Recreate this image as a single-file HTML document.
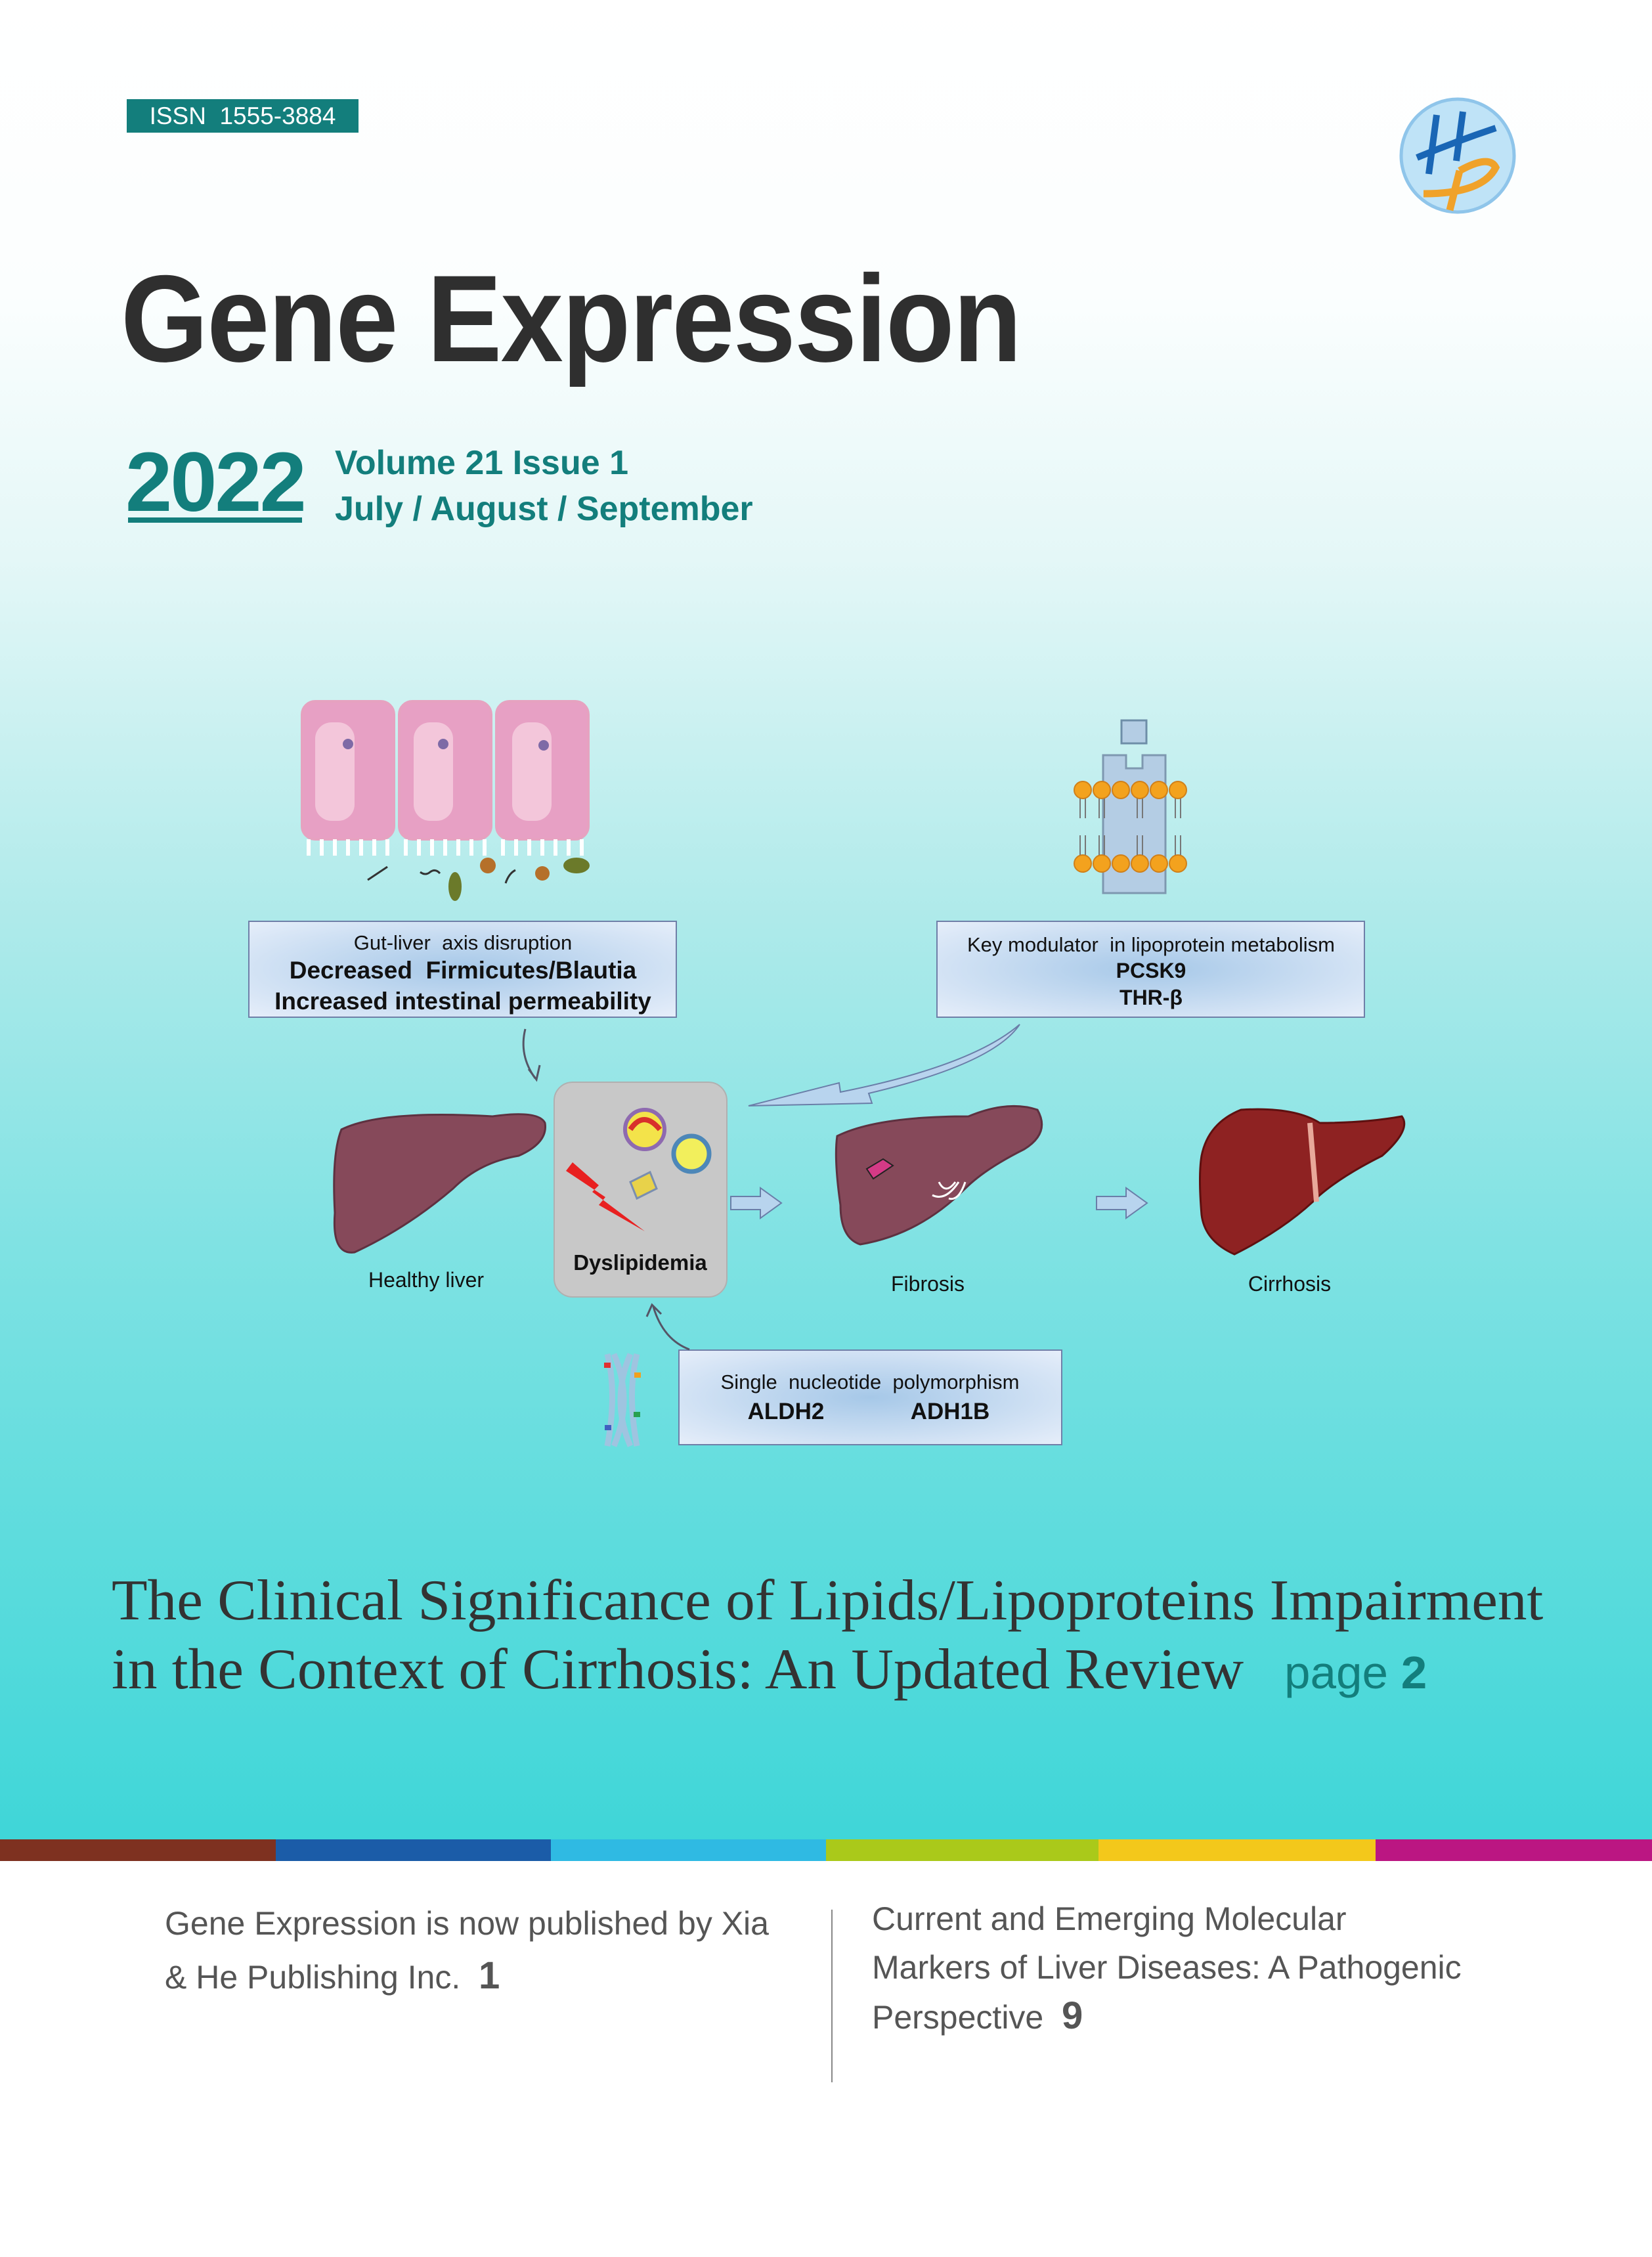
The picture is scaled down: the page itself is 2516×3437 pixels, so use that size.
<!DOCTYPE html>
<html><head><meta charset="utf-8"><style>
html,body{margin:0;padding:0}
body{width:2516px;height:3437px;position:relative;overflow:hidden;background:#fff;font-family:"Liberation Sans",sans-serif}
.bg{position:absolute;left:0;top:0;width:2516px;height:2801px;background:linear-gradient(to bottom,#ffffff 0px,#fbfefe 450px,#e4f7f7 850px,#aeeaea 1400px,#7fe2e3 1900px,#5ddcdd 2350px,#3fd6d8 2801px)}
.bar{position:absolute;top:2801px;height:33px}
.a{position:absolute;white-space:nowrap}
</style></head><body>
<div class="bg"></div>
<div class="a" style="left:193px;top:151px;width:353px;height:51px;background:#137e7c;color:#fff;font-size:37px;line-height:51px;text-align:center">ISSN&nbsp; 1555-3884</div>
<svg class="a" style="left:2128px;top:145px" width="184" height="184" viewBox="0 0 184 184">
<circle cx="92" cy="92" r="86" fill="#bfe3f7" stroke="#8fc5ea" stroke-width="5"/>
<path d="M60 30 L48 120 M100 25 L90 100 M30 95 Q90 70 150 50" stroke="#1a66b5" stroke-width="10" fill="none"/>
<path d="M95 115 Q140 90 150 110 Q130 150 40 150 M95 115 L80 175" stroke="#f0a22a" stroke-width="11" fill="none"/>
</svg>
<div class="a" style="left:184px;top:385px;font-size:188px;font-weight:bold;color:#2f2f2f;line-height:200px;transform:scaleX(0.91);transform-origin:left top;letter-spacing:-2px">Gene Expression</div>
<div class="a" style="left:191px;top:660px;font-size:128px;font-weight:bold;color:#137e7c;line-height:150px;letter-spacing:-3px">2022</div>
<div class="a" style="left:195px;top:788px;width:265px;height:8px;background:#137e7c"></div>
<div class="a" style="left:510px;top:670px;font-size:52px;font-weight:bold;color:#137e7c;line-height:70px">Volume 21 Issue 1</div>
<div class="a" style="left:510px;top:740px;font-size:52px;font-weight:bold;color:#137e7c;line-height:70px">July / August / September</div>

<svg class="a" style="left:0;top:0" width="2516" height="2801" viewBox="0 0 2516 2801">
<defs>
<radialGradient id="bx" cx="50%" cy="50%" r="70%"><stop offset="0" stop-color="#a6c8e8"/><stop offset="1" stop-color="#e6eefa"/></radialGradient>
</defs>
<g stroke="#e6a2c0" stroke-width="4" fill="#e7a0c4">
<rect x="460" y="1068" width="140" height="210" rx="20"/>
<rect x="608" y="1068" width="140" height="210" rx="20"/>
<rect x="756" y="1068" width="140" height="210" rx="20"/>
</g>
<g fill="#f3c6da"><rect x="480" y="1100" width="60" height="150" rx="25"/><rect x="630" y="1100" width="60" height="150" rx="25"/><rect x="780" y="1100" width="60" height="150" rx="25"/></g>
<g fill="#7e6aa6"><circle cx="530" cy="1133" r="8"/><circle cx="675" cy="1133" r="8"/><circle cx="828" cy="1135" r="8"/></g>
<g stroke="#fff" stroke-width="6" fill="none">
<path d="M470 1278 v25 M490 1278 v25 M510 1278 v25 M530 1278 v25 M550 1278 v25 M570 1278 v25 M590 1278 v25 M618 1278 v25 M638 1278 v25 M658 1278 v25 M678 1278 v25 M698 1278 v25 M718 1278 v25 M738 1278 v25 M766 1278 v25 M786 1278 v25 M806 1278 v25 M826 1278 v25 M846 1278 v25 M866 1278 v25 M886 1278 v25"/>
</g>
<g fill="#6b7a2a"><ellipse cx="693" cy="1350" rx="10" ry="22"/><circle cx="743" cy="1318" r="12" fill="#b5702a"/><circle cx="826" cy="1330" r="11" fill="#b5702a"/><ellipse cx="878" cy="1318" rx="20" ry="12"/></g>
<path d="M560 1340 q15-10 30-20 M640 1328 q8 6 15 0 q8-6 15 2 M770 1345 q5-15 15-20" stroke="#333" stroke-width="3" fill="none"/>
<rect x="1708" y="1097" width="38" height="35" fill="#b4cde4" stroke="#6e8ea8" stroke-width="3"/>
<path d="M1680 1150 h35 v20 h25 v-20 h35 v210 h-95 z" fill="#b4cde4" stroke="#7e98b0" stroke-width="3"/>
<g fill="#f3a21e" stroke="#d0801a" stroke-width="2">
<circle cx="1649" cy="1203" r="13"/><circle cx="1678" cy="1203" r="13"/><circle cx="1707" cy="1203" r="13"/><circle cx="1736" cy="1203" r="13"/><circle cx="1765" cy="1203" r="13"/><circle cx="1794" cy="1203" r="13"/>
<circle cx="1649" cy="1315" r="13"/><circle cx="1678" cy="1315" r="13"/><circle cx="1707" cy="1315" r="13"/><circle cx="1736" cy="1315" r="13"/><circle cx="1765" cy="1315" r="13"/><circle cx="1794" cy="1315" r="13"/>
</g>
<g stroke="#777" stroke-width="2" fill="none"><path d="M1645 1216 v30 M1653 1216 v30 M1674 1216 v30 M1682 1216 v30 M1732 1216 v30 M1740 1216 v30 M1790 1216 v30 M1798 1216 v30 M1645 1272 v30 M1653 1272 v30 M1674 1272 v30 M1682 1272 v30 M1732 1272 v30 M1740 1272 v30 M1790 1272 v30 M1798 1272 v30"/></g>
<rect x="379" y="1403" width="651" height="146" fill="url(#bx)" stroke="#6f7fa8" stroke-width="2"/>
<rect x="1427" y="1403" width="651" height="146" fill="url(#bx)" stroke="#6f7fa8" stroke-width="2"/>
<rect x="1034" y="2056" width="583" height="144" fill="url(#bx)" stroke="#6f7fa8" stroke-width="2"/>
<g font-family="Liberation Sans, sans-serif" text-anchor="middle" fill="#111">
<text x="705" y="1446" font-size="31">Gut-liver&#160; axis disruption</text>
<text x="705" y="1490" font-size="37" font-weight="bold">Decreased&#160; Firmicutes/Blautia</text>
<text x="705" y="1537" font-size="37" font-weight="bold">Increased intestinal permeability</text>
<text x="1753" y="1449" font-size="31">Key modulator&#160; in lipoprotein metabolism</text>
<text x="1753" y="1489" font-size="32" font-weight="bold">PCSK9</text>
<text x="1753" y="1530" font-size="32" font-weight="bold">THR-β</text>
<text x="1325" y="2115" font-size="31">Single&#160; nucleotide&#160; polymorphism</text>
<text x="1197" y="2161" font-size="35" font-weight="bold">ALDH2</text>
<text x="1447" y="2161" font-size="35" font-weight="bold">ADH1B</text>
<text x="649" y="1960" font-size="32">Healthy liver</text>
<text x="1413" y="1966" font-size="32">Fibrosis</text>
<text x="1964" y="1966" font-size="32">Cirrhosis</text>
</g>
<rect x="844" y="1648" width="263" height="327" rx="28" fill="#c8c8c8" stroke="#b0b0b0" stroke-width="2"/>
<circle cx="982" cy="1720" r="30" fill="#f3e34a" stroke="#8e6ab0" stroke-width="6"/>
<path d="M960 1720 q20 -30 45 0" stroke="#d8302c" stroke-width="8" fill="none"/>
<circle cx="1053" cy="1757" r="27" fill="#f2ef5c" stroke="#4d87b8" stroke-width="7"/>
<path d="M960 1800 l30 -15 l10 25 l-30 15 z" fill="#e8d24a" stroke="#7a8eb0" stroke-width="3"/>
<path d="M872 1770 l40 35 l-10 10 l80 60 l-70 -40 l10 -12 l-60 -40 z" fill="#e82020"/>
<text x="975" y="1934" font-size="33" font-weight="bold" text-anchor="middle" font-family="Liberation Sans, sans-serif" fill="#111">Dyslipidemia</text>
<path d="M520 1720 q60 -30 230 -20 q70 -10 80 10 q5 30 -40 50 q-60 10 -100 50 q-70 60 -150 97 q-35 5 -30 -60 q-5 -90 10 -127 z" fill="#86495a" stroke="#5e3140" stroke-width="3"/>
<path d="M1275 1730 q60 -30 200 -30 q60 -25 105 -10 q20 35 -20 60 q-60 30 -90 60 q-70 70 -160 85 q-30 -10 -30 -60 q-10 -70 -5 -105 z" fill="#86495a" stroke="#5e3140" stroke-width="3"/>
<path d="M1320 1780 l25 -15 l15 10 l-30 20 z" fill="#d43a86" stroke="#222" stroke-width="2"/>
<path d="M1430 1800 q10 20 25 0 M1420 1820 q20 10 40 -20 M1445 1825 q15 5 25 -25" stroke="#fff" stroke-width="3" fill="none"/>
<path d="M1830 1760 q10 -50 60 -70 q80 -5 120 20 q70 0 125 -10 q15 20 -30 60 q-60 30 -95 60 q-50 50 -130 90 q-45 -20 -50 -60 q-5 -60 0 -90 z" fill="#8e2222" stroke="#5e1010" stroke-width="3"/>
<path d="M1995 1710 l10 120" stroke="#e8a89a" stroke-width="8"/>
<path d="M1113 1822 h45 v-13 l32 23 l-32 23 v-13 h-45 z" fill="#b8d4ee" stroke="#6a7ea8" stroke-width="2"/>
<path d="M1670 1822 h45 v-13 l32 23 l-32 23 v-13 h-45 z" fill="#b8d4ee" stroke="#6a7ea8" stroke-width="2"/>
<path d="M1553 1560 q-40 60 -230 105 l5 15 l-188 4 l138 -35 l2 14 q200 -40 273 -103 z" fill="#b8d4ee" stroke="#6a7ea8" stroke-width="2"/>
<path d="M800 1567 q-10 40 15 75" stroke="#556" stroke-width="3" fill="none"/><path d="M805 1628 l12 16 l5 -22" stroke="#556" stroke-width="3" fill="none"/>
<path d="M1050 2055 q-40 -15 -55 -65" stroke="#556" stroke-width="3" fill="none"/><path d="M985 2005 l8 -18 l14 14" stroke="#556" stroke-width="3" fill="none"/>
<path d="M925 2062 q15 60 0 140 M970 2062 q-15 60 0 140 M935 2062 q30 70 0 140 M960 2062 q-30 70 0 140" stroke="#9fc4e0" stroke-width="9" fill="none"/>
<g fill="#e03030"><rect x="920" y="2075" width="10" height="8"/><rect x="965" y="2150" width="10" height="8" fill="#28a050"/><rect x="966" y="2090" width="10" height="8" fill="#f0a020"/><rect x="921" y="2170" width="10" height="8" fill="#4060c0"/></g>
</svg>

<div class="a" style="left:170px;top:2385px;font-family:'Liberation Serif',serif;font-size:88px;color:#333;line-height:105px;transform:scaleX(1.015);transform-origin:left top">The Clinical Significance of Lipids/Lipoproteins Impairment</div>
<div class="a" style="left:170px;top:2490px;font-family:'Liberation Serif',serif;font-size:88px;color:#333;line-height:105px;transform:scaleX(1.015);transform-origin:left top">in the Context of Cirrhosis: An Updated Review <span style="font-family:'Liberation Sans',sans-serif;color:#137e7c;font-size:70px">&nbsp; page <b>2</b></span></div>

<div class="bar" style="left:0;width:420px;background:#7e3120"></div>
<div class="bar" style="left:420px;width:419px;background:#1b5ca8"></div>
<div class="bar" style="left:839px;width:419px;background:#2fbae3"></div>
<div class="bar" style="left:1258px;width:415px;background:#aac91a"></div>
<div class="bar" style="left:1673px;width:422px;background:#f3c81b"></div>
<div class="bar" style="left:2095px;width:421px;background:#bb1682"></div>

<div class="a" style="left:251px;top:2890px;font-size:50px;color:#555;line-height:79px">Gene Expression is now published by Xia<br>&amp; He Publishing Inc.&nbsp; <b style="font-size:58px">1</b></div>
<div class="a" style="left:1266px;top:2908px;width:2px;height:263px;background:#888"></div>
<div class="a" style="left:1328px;top:2885px;font-size:50px;color:#555;line-height:74px">Current and Emerging Molecular<br>Markers of Liver Diseases: A Pathogenic<br>Perspective&nbsp; <b style="font-size:58px">9</b></div>
</body></html>
